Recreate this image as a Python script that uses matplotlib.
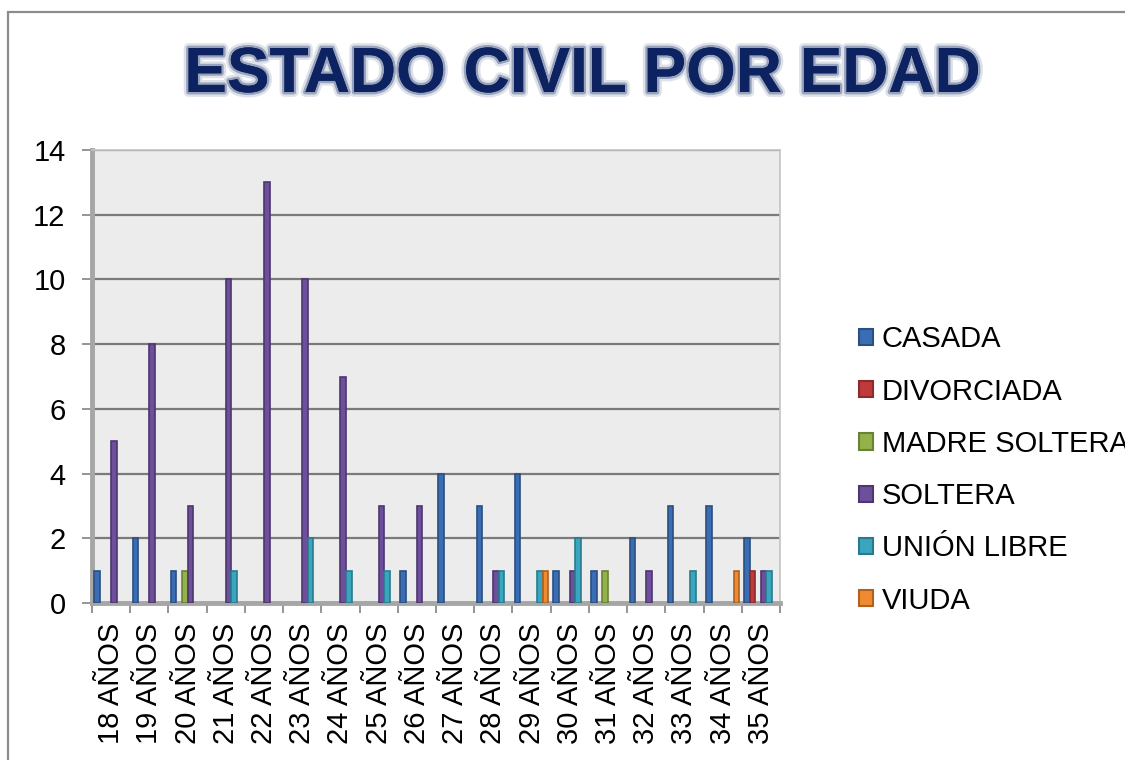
import matplotlib
matplotlib.use("Agg")
import matplotlib.pyplot as plt
import matplotlib.patheffects as pe
from matplotlib.patches import Rectangle, Patch
import numpy as np

plt.rcParams["font.family"] = ["Liberation Sans", "DejaVu Sans"]

# ── Data ──────────────────────────────────────────────────────────────────────
ages = [f"{a} AÑOS" for a in range(18, 36)]
series_names = ["CASADA", "DIVORCIADA", "MADRE SOLTERA", "SOLTERA", "UNIÓN LIBRE", "VIUDA"]

casada        = [1, 2, 1, 0, 0, 0, 0, 0, 1, 4, 3, 4, 1, 1, 2, 3, 3, 2]
divorciada    = [0, 0, 0, 0, 0, 0, 0, 0, 0, 0, 0, 0, 0, 0, 0, 0, 0, 1]
madre_soltera = [0, 0, 1, 0, 0, 0, 0, 0, 0, 0, 0, 0, 0, 1, 0, 0, 0, 0]
soltera       = [5, 8, 3, 10, 13, 10, 7, 3, 3, 0, 1, 0, 1, 0, 1, 0, 0, 1]
union_libre   = [0, 0, 0, 1, 0, 2, 1, 1, 0, 0, 1, 1, 2, 0, 0, 1, 0, 1]
viuda         = [0, 0, 0, 0, 0, 0, 0, 0, 0, 0, 0, 1, 0, 0, 0, 0, 1, 0]

series_values = [casada, divorciada, madre_soltera, soltera, union_libre, viuda]

fill_colors = ["#3a6db3", "#c0393b", "#93b24a", "#6e4f9c", "#3aa5be", "#f08a30"]
edge_colors = ["#2a4f80", "#8c2a2c", "#6a8236", "#4e3670", "#2a7a8e", "#b0611f"]

# ── Figure ────────────────────────────────────────────────────────────────────
W, H = 1125, 760
fig = plt.figure(figsize=(W / 100, H / 100), dpi=100)

# outer chart frame (cut off on right / bottom like the screenshot)
fig.patches.append(Rectangle((8 / W, -0.1), 1.2, 1.1 - 12 / H,
                             transform=fig.transFigure, fill=False,
                             ec="#8c8c8c", lw=1.6))

ax = fig.add_axes([92 / W, 1 - 603 / H, 688 / W, 453 / H])
ax.set_facecolor("#ececec")

x = np.arange(len(ages))
w = 0.145
for i, (name, vals) in enumerate(zip(series_names, series_values)):
    vals = np.asarray(vals)
    keep = vals > 0
    ax.bar(x[keep] + (i - 2.5) * w, vals[keep], width=w,
           color=fill_colors[i], edgecolor=edge_colors[i], linewidth=1.2,
           zorder=3)

ax.set_xlim(-0.5, len(ages) - 0.5)
ax.set_ylim(0, 14)
ax.set_yticks(range(0, 15, 2))
ax.yaxis.grid(True, color="#7a7a7a", linewidth=1.6, zorder=1)
ax.set_axisbelow(True)

# category ticks at boundaries, labels centred
ax.set_xticks(np.arange(-0.5, len(ages), 1.0))
ax.set_xticklabels([])
ax.set_xticks(x, minor=True)
ax.set_xticklabels(ages, minor=True, rotation=90, fontsize=21, va="top")
ax.tick_params(axis="x", which="minor", length=0, pad=14)
ax.tick_params(axis="x", which="major", length=7, width=1.3, color="#8c8c8c")
ax.tick_params(axis="y", length=7, width=1.3, color="#8c8c8c", labelsize=21, pad=12)

for side in ["left", "bottom"]:
    ax.spines[side].set_color("#a6a6a6")
    ax.spines[side].set_linewidth(3.5)
ax.spines["top"].set_color("#c4c4c4")
ax.spines["top"].set_linewidth(1.2)
ax.spines["right"].set_color("#c4c4c4")
ax.spines["right"].set_linewidth(1.2)

# ── Title ─────────────────────────────────────────────────────────────────────
fig.text(582 / W, 1 - 75 / H, "ESTADO CIVIL POR EDAD", ha="center", va="center",
         fontsize=46, fontweight="bold", color="#0d2260",
         path_effects=[pe.withStroke(linewidth=7, foreground="#dde1ea"),
                       pe.withStroke(linewidth=3.5, foreground="#98a3bb"),
                       pe.Normal()])

# ── Legend ────────────────────────────────────────────────────────────────────
# (the last letters of "MADRE SOLTERA" run off the right edge, as in the original)
handles = [Patch(facecolor=fc, edgecolor=ec, linewidth=1.5)
           for fc, ec in zip(fill_colors, edge_colors)]
fig.legend(handles, series_names, loc="center left",
           bbox_to_anchor=(859 / W, 1 - 470 / H), frameon=False, fontsize=21,
           handlelength=0.48, handleheight=0.48, handletextpad=0.3,
           labelspacing=0.83, borderpad=0, borderaxespad=0)

fig.savefig("out.png", dpi=100)
